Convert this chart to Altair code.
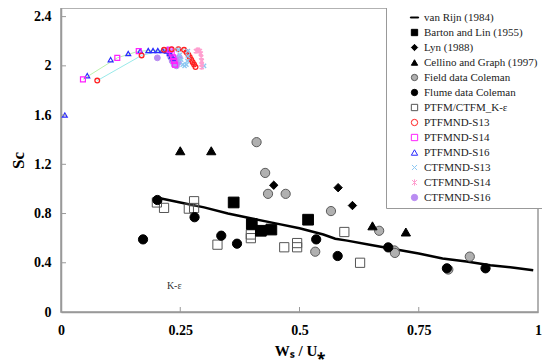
import altair as alt
import pandas as pd

# ---- data ----
x_ticks = [0, 0.25, 0.5, 0.75, 1]
y_ticks = [0, 0.4, 0.8, 1.2, 1.6, 2.0, 2.4]

vr_x = [0.20, 0.25, 0.30, 0.35, 0.40, 0.45, 0.50, 0.55, 0.575, 0.60, 0.65, 0.70, 0.75, 0.80, 0.85, 0.90, 0.95, 0.99]
vr_y = [0.93, 0.89, 0.85, 0.80, 0.76, 0.72, 0.68, 0.63, 0.595, 0.58, 0.545, 0.51, 0.475, 0.435, 0.41, 0.38, 0.36, 0.34]

barton_x = [0.362, 0.400, 0.419, 0.441, 0.518]
barton_y = [0.89, 0.715, 0.66, 0.67, 0.75]

lyn_x = [0.446, 0.581, 0.611]
lyn_y = [1.03, 1.01, 0.865]

cellino_x = [0.250, 0.315, 0.653, 0.723]
cellino_y = [1.31, 1.31, 0.70, 0.65]

field_x = [0.410, 0.428, 0.434, 0.471, 0.533, 0.566, 0.667, 0.699, 0.700, 0.812, 0.857]
field_y = [1.38, 1.13, 0.96, 0.96, 0.49, 0.82, 0.66, 0.50, 0.48, 0.345, 0.45]

flume_x = [0.172, 0.202, 0.280, 0.336, 0.369, 0.535, 0.580, 0.686, 0.809, 0.890]
flume_y = [0.59, 0.91, 0.77, 0.62, 0.555, 0.59, 0.455, 0.525, 0.355, 0.355]

ke_x = [0.201, 0.216, 0.268, 0.279, 0.279, 0.328, 0.398, 0.398, 0.468, 0.495, 0.495, 0.594, 0.627]
ke_y = [0.89, 0.846, 0.84, 0.90, 0.845, 0.547, 0.63, 0.60, 0.526, 0.56, 0.526, 0.65, 0.40]

p13_x = [0.076, 0.169, 0.216, 0.232, 0.246, 0.258, 0.263, 0.267, 0.270, 0.273, 0.276, 0.279, 0.282]
p13_y = [1.88, 2.085, 2.13, 2.135, 2.135, 2.13, 2.11, 2.09, 2.07, 2.05, 2.03, 2.01, 1.99]

p14_x = [0.046, 0.118, 0.163, 0.228, 0.232, 0.235, 0.237, 0.239]
p14_y = [1.89, 2.065, 2.12, 2.13, 2.10, 2.07, 2.04, 2.01]

p16_x = [0.008, 0.055, 0.104, 0.141, 0.166, 0.183, 0.193, 0.203, 0.213, 0.222, 0.228, 0.232, 0.236]
p16_y = [1.60, 1.92, 2.05, 2.10, 2.12, 2.125, 2.125, 2.125, 2.125, 2.12, 2.10, 2.08, 2.06]

c13_x = [0.246, 0.249, 0.252, 0.255, 0.259, 0.263, 0.265, 0.266, 0.266, 0.300]
c13_y = [2.13, 2.09, 2.05, 2.01, 2.00, 2.01, 2.04, 2.08, 2.12, 2.00]

c14_x = [0.283, 0.287, 0.291, 0.293, 0.294, 0.295, 0.295, 0.295]
c14_y = [2.12, 2.13, 2.12, 2.10, 2.07, 2.04, 2.01, 1.99]

c16_x = [0.202, 0.224, 0.227, 0.230, 0.233, 0.237, 0.242, 0.246, 0.248]
c16_y = [2.065, 2.13, 2.10, 2.07, 2.04, 2.01, 2.00, 2.03, 2.07]

names = ["van Rijn (1984)", "Barton and Lin (1955)", "Lyn (1988)", "Cellino and Graph (1997)",
         "Field data Coleman", "Flume data Coleman", "PTFM/CTFM_K-ε",
         "PTFMND-S13", "PTFMND-S14", "PTFMND-S16", "CTFMND-S13", "CTFMND-S14", "CTFMND-S16"]

line_path = "M-1.3,-0.15H1.3V0.15H-1.3Z"
x_path = "M-0.8,-0.8L0.8,0.8M-0.8,0.8L0.8,-0.8"
ast_path = "M-0.8,-0.8L0.8,0.8M-0.8,0.8L0.8,-0.8M0,-1L0,1"
shapes = [line_path, "square", "diamond", "triangle-up", "circle", "circle", "square",
          "circle", "square", "triangle-up", x_path, ast_path, "circle"]
fills = ["black", "black", "black", "black", "#b0b0b0", "black", "transparent",
         "transparent", "transparent", "transparent", "transparent", "transparent", "#b98cf2"]
strokes = ["black", "black", "black", "black", "#5a5a5a", "black", "#555555",
           "#ff2020", "#ff20ff", "#2a2aff", "#8ec8f2", "#ff9fcf", "#b98cf2"]

series_xy = [
    (names[1], barton_x, barton_y), (names[2], lyn_x, lyn_y), (names[3], cellino_x, cellino_y),
    (names[4], field_x, field_y), (names[5], flume_x, flume_y), (names[6], ke_x, ke_y),
    (names[7], p13_x, p13_y), (names[8], p14_x, p14_y), (names[9], p16_x, p16_y),
    (names[10], c13_x, c13_y), (names[11], c14_x, c14_y), (names[12], c16_x, c16_y),
]
rows = []
for nm, xs, ys in series_xy:
    for i, (a, b) in enumerate(zip(xs, ys)):
        rows.append({"series": nm, "x": a, "y": b, "order": i})
df = pd.DataFrame(rows)
vr_df = pd.DataFrame({"x": vr_x, "y": vr_y})
ke_lbl = pd.DataFrame({"x": [0.222], "y": [0.21], "t": ["K-ε"]})
xt_df = pd.DataFrame({"x": x_ticks[1:-1]})
yt_df = pd.DataFrame({"y": y_ticks[1:]})

W, H = 477, 304
FONT = "Liberation Serif"

X = alt.X("x:Q", scale=alt.Scale(domain=[0, 1], nice=False),
          axis=alt.Axis(values=x_ticks, format=".3~g", ticks=False, grid=False, labelFlush=False,
                        labelOverlap=False, labelPadding=11, title="Wₛ / U⁎", titlePadding=6,
                        domainColor="#999999", domainWidth=1.5))
Y = alt.Y("y:Q", scale=alt.Scale(domain=[0, 2.47], nice=False),
          axis=alt.Axis(values=y_ticks, format=".3~g", ticks=False, grid=False, labelFlush=False,
                        labelOverlap=False, labelPadding=10, title="Sc", titlePadding=6,
                        titleFontSize=17, domainColor="#999999", domainWidth=1.5))

leg = alt.Legend(title=None, orient="none", legendX=325, legendY=-1)
SH = alt.Shape("series:N", scale=alt.Scale(domain=names, range=shapes), legend=leg)
FI = alt.Fill("series:N", scale=alt.Scale(domain=names, range=fills), legend=leg)
ST = alt.Stroke("series:N", scale=alt.Scale(domain=names, range=strokes), legend=leg)


def pts(sel, size, sw=1.0):
    return (alt.Chart(df).transform_filter(alt.FieldOneOfPredicate(field="series", oneOf=sel))
            .mark_point(filled=True, size=size, opacity=1, strokeWidth=sw)
            .encode(x=X, y=Y, shape=SH, fill=FI, stroke=ST))


def conn(nm, color):
    return (alt.Chart(df).transform_filter(alt.FieldEqualPredicate(field="series", equal=nm))
            .mark_line(color=color, strokeWidth=0.8)
            .encode(x=X, y=Y, order="order:Q"))


vr_line = alt.Chart(vr_df).mark_line(color="black", strokeWidth=2.5).encode(x=X, y=Y)
ke_text = alt.Chart(ke_lbl).mark_text(font=FONT, fontSize=10, align="left", color="#333").encode(
    x=X, y=Y, text="t:N")
xticks = alt.Chart(xt_df).mark_rule(color="#999999", strokeWidth=1).encode(
    x=X, y=alt.value(H), y2=alt.value(H - 5))
yticks = alt.Chart(yt_df).mark_rule(color="#999999", strokeWidth=1).encode(
    y=Y, x=alt.value(0), x2=alt.value(5))

chart = alt.layer(
    vr_line,
    conn(names[7], "#7fe3e3"),
    conn(names[8], "#a8ee98"),
    pts([names[6]], 85),
    pts([names[4]], 85),
    pts([names[5]], 85),
    pts([names[1]], 115),
    pts([names[2]], 70),
    pts([names[3]], 85),
    pts([names[12]], 34),
    pts([names[9]], 24, 1.2),
    pts([names[8]], 24, 1.2),
    pts([names[7]], 22, 1.3),
    pts([names[10]], 26, 1.4),
    pts([names[11]], 26, 1.6),
    ke_text, xticks, yticks,
).properties(
    width=W, height=H,
    autosize=alt.AutoSizeParams(type="none"),
    padding={"left": 53, "top": 0, "right": 4, "bottom": 49},
).configure_view(
    stroke="#999999", strokeWidth=1.5
).configure_axis(
    labelFont=FONT, labelFontSize=14, labelFontWeight="bold", labelColor="black",
    titleFont=FONT, titleFontSize=15, titleFontWeight="bold", titleColor="black",
).configure_legend(
    labelFont=FONT, labelFontSize=11, labelColor="#222222", symbolSize=40,
    symbolStrokeWidth=1, rowPadding=3, padding=5, strokeColor="#999999",
    fillColor="white", symbolOffset=18, labelOffset=4, labelLimit=200,
)

chart.save("out.html", embed_options={"renderer": "svg", "actions": False})
